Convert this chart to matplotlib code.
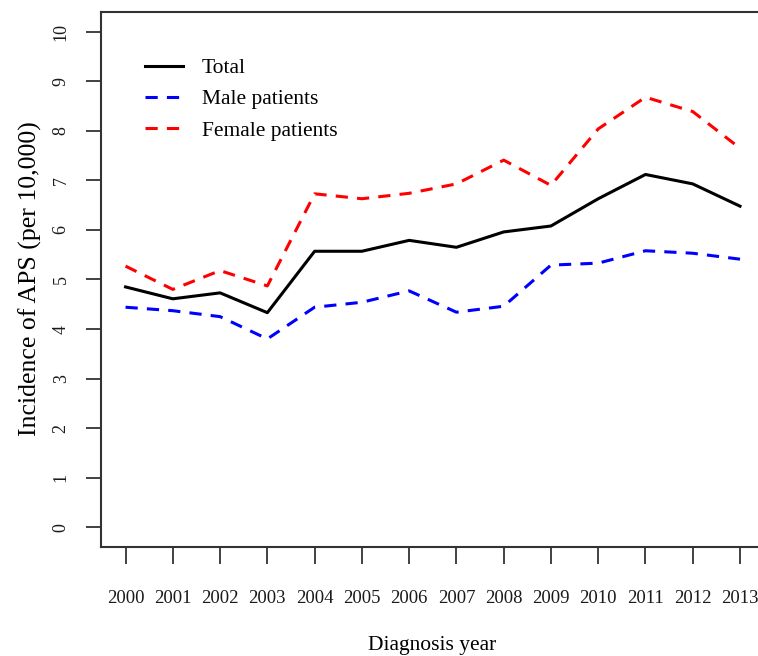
import matplotlib
matplotlib.use("Agg")
import matplotlib.pyplot as plt

# Incidence of APS per 10,000, by diagnosis year
years = [2000, 2001, 2002, 2003, 2004, 2005, 2006, 2007, 2008, 2009, 2010, 2011, 2012, 2013]
total = [4.85, 4.61, 4.73, 4.33, 5.57, 5.57, 5.79, 5.65, 5.96, 6.08, 6.63, 7.12, 6.93, 6.48]
male = [4.44, 4.37, 4.25, 3.80, 4.44, 4.54, 4.77, 4.34, 4.46, 5.29, 5.33, 5.58, 5.53, 5.41]
female = [5.27, 4.80, 5.18, 4.87, 6.73, 6.63, 6.74, 6.93, 7.41, 6.90, 8.04, 8.68, 8.39, 7.65]
y_ticks = [0, 1, 2, 3, 4, 5, 6, 7, 8, 9, 10]

plt.rcParams["font.family"] = ["Liberation Serif", "DejaVu Serif"]

fig = plt.figure(figsize=(7.58, 6.56), dpi=100)
ax = fig.add_axes([0.1332, 0.1662, 0.8755, 0.8155])

lw = 2.2
ax.plot(years, total, color="black", lw=lw, label="Total")
ax.plot(years, male, color="#0000FF", lw=lw, dashes=(4, 3), label="Male patients")
ax.plot(years, female, color="#FF0000", lw=lw, dashes=(4, 3), label="Female patients")

ax.set_xlim(years[0] - 0.52, years[-1] + 0.52)
ax.set_ylim(-0.4, 10.4)
ax.set_xticks(years)
ax.set_xticklabels([str(y) for y in years])
ax.set_yticks(y_ticks)
ax.set_yticklabels([str(v) for v in y_ticks])

axis_color = "#333333"
for sp in ax.spines.values():
    sp.set_color(axis_color)
    sp.set_linewidth(1.5)

ax.tick_params(axis="x", direction="out", length=12.2, width=1.3, color=axis_color,
               pad=19, labelsize=13.5, labelcolor="#1a1a1a")
ax.tick_params(axis="y", direction="out", length=10.5, width=1.3, color=axis_color,
               pad=12, labelsize=13, labelcolor="#1a1a1a", labelrotation=90)
for lab in ax.get_yticklabels():
    lab.set_verticalalignment("center")

ax.set_xlabel("Diagnosis year", fontsize=15.5)
ax.xaxis.label.set_verticalalignment("center")
ax.xaxis.set_label_coords(0.4995, -0.184)

ax.set_ylabel("Incidence of APS (per 10,000)", fontsize=18.5)
ax.yaxis.label.set_verticalalignment("center")
ax.yaxis.set_label_coords(-0.107, 0.501)

ax.legend(loc="upper left", bbox_to_anchor=(0.0663, 0.914), frameon=False,
          fontsize=15.5, handlelength=1.76, handletextpad=0.88,
          labelspacing=0.52, borderpad=0, borderaxespad=0)

fig.savefig("out.png", dpi=100)
